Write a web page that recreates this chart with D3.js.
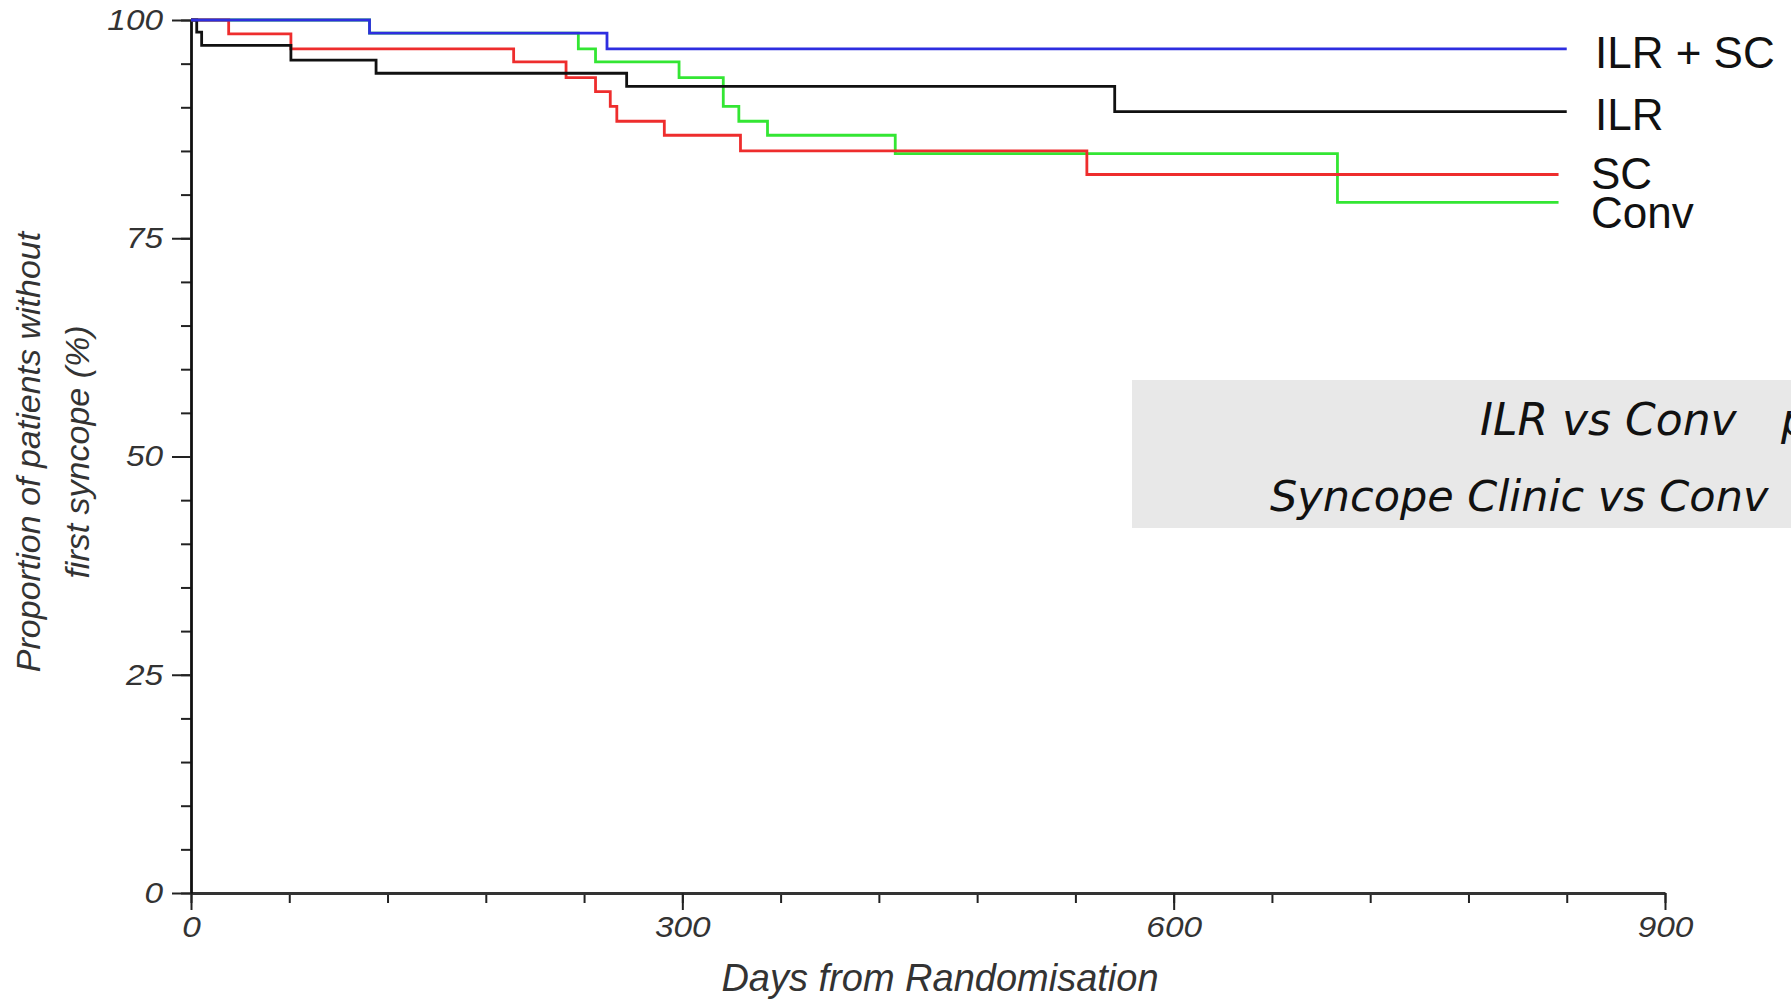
<!DOCTYPE html>
<html>
<head>
<meta charset="utf-8">
<script src="https://cdn.jsdelivr.net/npm/d3@7"></script>
<style>
  html, body { margin: 0; padding: 0; background: #fff; }
  svg { display: block; }
</style>
</head>
<body>
<svg id="chart" width="1791" height="999"></svg>
<script>
// ---- data ----
const seriesNames = ["ILR + SC", "ILR", "SC", "Conv"];
const seriesColors = ["#2e2ee0", "#111111", "#ee2d2d", "#33e633"];

const ilrScDays = [0, 109, 254, 840];
const ilrScVals = [100, 98.5, 96.7, 96.7];

const ilrDays = [0, 3.5, 6.5, 61, 113, 266, 564, 840];
const ilrVals = [100, 98.6, 97.1, 95.4, 93.9, 92.4, 89.5, 89.5];

const scDays = [0, 23, 61, 197, 229, 247, 256, 260, 289, 335.5, 547, 835];
const scVals = [100, 98.4, 96.7, 95.2, 93.4, 91.8, 90.1, 88.4, 86.8, 85.0, 82.3, 82.3];

const convDays = [0, 109, 236.5, 247, 298, 325, 334.5, 352, 430, 700, 835];
const convVals = [100, 98.5, 96.7, 95.2, 93.4, 90.1, 88.4, 86.8, 84.7, 79.1, 79.1];

const xTickValues = [0, 300, 600, 900];
const yTickValues = [0, 25, 50, 75, 100];
const xMinorStep = 60;
const yMinorStep = 5;

const statLine1 = "ILR vs Conv";
const statLine1P = "p";
const statLine2 = "Syncope Clinic vs Conv";

const xLabel = "Days from Randomisation";
const yLabel1 = "Proportion of patients without";
const yLabel2 = "first syncope (%)";

// ---- layout ----
const svg = d3.select("#chart");
const x = d3.scaleLinear().domain([0, 900]).range([191, 1665]);
const y = d3.scaleLinear().domain([0, 100]).range([893, 20]);

// grey stats box
svg.append("rect")
  .attr("x", 1132).attr("y", 380)
  .attr("width", 1791 - 1132).attr("height", 148)
  .attr("fill", "#e8e8e8");

const statFont = "'DejaVu Sans', Verdana, sans-serif";
svg.append("text").attr("x", 1480).attr("y", 435)
  .attr("font-family", statFont).attr("font-style", "italic").attr("font-size", 44)
  .attr("fill", "#111").text(statLine1);
svg.append("text").attr("x", 1781).attr("y", 435)
  .attr("font-family", statFont).attr("font-style", "italic").attr("font-size", 44)
  .attr("fill", "#111").text(statLine1P);
svg.append("text").attr("x", 1270).attr("y", 511)
  .attr("font-family", statFont).attr("font-style", "italic").attr("font-size", 43)
  .attr("fill", "#111").text(statLine2);

// ---- axes ----
const tickFont = "'Liberation Sans', Arial, sans-serif";
const tickStretch = 1.15;

// x minor ticks
const xMinor = svg.append("g").attr("transform", `translate(0,${y(0)})`)
  .call(d3.axisBottom(x).tickValues(d3.range(0, 901, xMinorStep)).tickSize(10).tickSizeOuter(0).tickFormat(""));
xMinor.select(".domain").remove();
xMinor.selectAll("line").attr("stroke", "#222").attr("stroke-width", 2);

// y minor ticks
const yMinor = svg.append("g").attr("transform", `translate(${x(0)},0)`)
  .call(d3.axisLeft(y).tickValues(d3.range(0, 101, yMinorStep)).tickSize(10).tickSizeOuter(0).tickFormat(""));
yMinor.select(".domain").remove();
yMinor.selectAll("line").attr("stroke", "#222").attr("stroke-width", 2);

// x major
const xAxis = svg.append("g").attr("transform", `translate(0,${y(0)})`)
  .call(d3.axisBottom(x).tickValues(xTickValues).tickSize(17).tickSizeOuter(0).tickPadding(4));
xAxis.select(".domain").attr("stroke", "#333").attr("stroke-width", 3);
xAxis.selectAll("line").attr("stroke", "#222").attr("stroke-width", 2);
xAxis.selectAll("text")
  .attr("font-family", tickFont).attr("font-style", "italic").attr("font-size", 29)
  .attr("fill", "#333").attr("dy", "0.8em")
  .attr("transform", `scale(${tickStretch},1)`);

// y major
const yAxis = svg.append("g").attr("transform", `translate(${x(0)},0)`)
  .call(d3.axisLeft(y).tickValues(yTickValues).tickSize(19).tickSizeOuter(0).tickPadding(9));
yAxis.select(".domain").attr("stroke", "#111").attr("stroke-width", 2.8);
yAxis.selectAll("line").attr("stroke", "#222").attr("stroke-width", 2);
yAxis.selectAll("text")
  .attr("font-family", tickFont).attr("font-style", "italic").attr("font-size", 29)
  .attr("fill", "#333")
  .attr("x", -28 / tickStretch)
  .attr("transform", `scale(${tickStretch},1)`);

// axis titles
svg.append("text")
  .attr("x", 940).attr("y", 991).attr("text-anchor", "middle")
  .attr("font-family", tickFont).attr("font-style", "italic").attr("font-size", 38)
  .attr("fill", "#333").text(xLabel);

svg.append("text")
  .attr("transform", "translate(40,452) rotate(-90)").attr("text-anchor", "middle")
  .attr("font-family", tickFont).attr("font-style", "italic").attr("font-size", 34)
  .attr("fill", "#333").text(yLabel1);
svg.append("text")
  .attr("transform", "translate(89,452) rotate(-90)").attr("text-anchor", "middle")
  .attr("font-family", tickFont).attr("font-style", "italic").attr("font-size", 34)
  .attr("fill", "#333").text(yLabel2);

// ---- curves ----
const series = [
  { name: seriesNames[3], color: seriesColors[3], days: convDays, vals: convVals },
  { name: seriesNames[2], color: seriesColors[2], days: scDays, vals: scVals },
  { name: seriesNames[1], color: seriesColors[1], days: ilrDays, vals: ilrVals },
  { name: seriesNames[0], color: seriesColors[0], days: ilrScDays, vals: ilrScVals }
];

const line = d3.line()
  .x(d => x(d[0])).y(d => y(d[1]))
  .curve(d3.curveStepAfter);

series.forEach(s => {
  const pts = s.days.map((d, i) => [d, s.vals[i]]);
  svg.append("path")
    .attr("d", line(pts))
    .attr("fill", "none")
    .attr("stroke", s.color)
    .attr("stroke-width", 2.8);
});

// ---- end labels ----
const labelFont = "'Liberation Sans', Arial, sans-serif";
const labelPos = [
  { name: seriesNames[0], x: 1595, y: 68 },
  { name: seriesNames[1], x: 1595, y: 130 },
  { name: seriesNames[2], x: 1591, y: 189 },
  { name: seriesNames[3], x: 1591, y: 228 }
];
labelPos.forEach(l => {
  svg.append("text").attr("x", l.x).attr("y", l.y)
    .attr("font-family", labelFont).attr("font-size", 44)
    .attr("fill", "#111").text(l.name);
});
</script>
</body>
</html>
